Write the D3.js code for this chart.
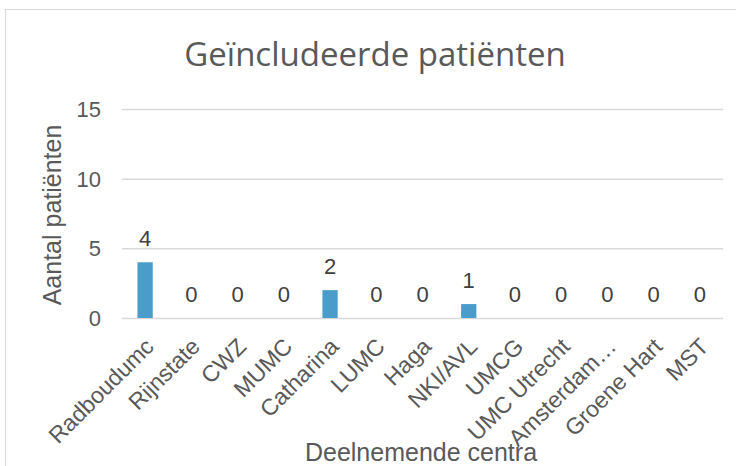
<!DOCTYPE html>
<html>
<head>
<meta charset="utf-8">
<script src="https://cdn.jsdelivr.net/npm/d3@7"></script>
<style>
  body { margin: 0; background: #fff; }
  svg text { font-family: "Liberation Sans", Arial, sans-serif; fill: #595959; }
</style>
</head>
<body>
<svg></svg>
<script>
var width = 736;
var height = 466;

var centra = ["Radboudumc", "Rijnstate", "CWZ", "MUMC", "Catharina", "LUMC", "Haga",
              "NKI/AVL", "UMCG", "UMC Utrecht", "Amsterdam…", "Groene Hart", "MST"];
var patienten = [4, 0, 0, 0, 2, 0, 0, 1, 0, 0, 0, 0, 0];
var y_ticks = [0, 5, 10, 15];

var plot = { left: 122, right: 723, top: 109, bottom: 318 };

var svg = d3.select("svg")
    .attr("width", width)
    .attr("height", height);

// chart frame (runs off the right and bottom edge)
svg.append("rect")
    .attr("x", 5.5).attr("y", 9.5)
    .attr("width", 740).attr("height", 470)
    .attr("fill", "none")
    .attr("stroke", "#d9d9d9");

var x = d3.scaleBand()
    .domain(centra)
    .range([plot.left, plot.right])
    .paddingInner(0.67)
    .paddingOuter(0.335);

var y = d3.scaleLinear()
    .domain([0, 15])
    .range([plot.bottom, plot.top]);

// gridlines
svg.append("g").selectAll("line")
    .data(y_ticks)
  .enter().append("line")
    .attr("x1", plot.left).attr("x2", plot.right)
    .attr("y1", function(d) { return y(d) + 0.5; })
    .attr("y2", function(d) { return y(d) + 0.5; })
    .attr("stroke", "#d9d9d9")
    .attr("stroke-width", 1.5);

// y tick labels
svg.append("g").selectAll("text")
    .data(y_ticks)
  .enter().append("text")
    .attr("x", 101)
    .attr("y", function(d) { return y(d); })
    .attr("dy", "0.36em")
    .attr("text-anchor", "end")
    .style("font-size", "22px")
    .text(function(d) { return d; });

// bars
svg.append("g").selectAll("rect")
    .data(patienten)
  .enter().append("rect")
    .attr("x", function(d, i) { return x(centra[i]); })
    .attr("y", function(d) { return y(d); })
    .attr("width", x.bandwidth())
    .attr("height", function(d) { return y(0) - y(d); })
    .attr("fill", "#4a9ccb");

// value labels
svg.append("g").selectAll("text")
    .data(patienten)
  .enter().append("text")
    .attr("x", function(d, i) { return x(centra[i]) + x.bandwidth() / 2; })
    .attr("y", function(d) { return y(d) - 16; })
    .attr("text-anchor", "middle")
    .style("font-size", "22px")
    .style("fill", "#404040")
    .text(function(d) { return d; });

// category labels, rotated
svg.append("g").selectAll("text")
    .data(centra)
  .enter().append("text")
    .attr("text-anchor", "end")
    .attr("transform", function(d) {
        var cx = x(d) + x.bandwidth() / 2 + 10;
        return "translate(" + cx + "," + (plot.bottom + 30) + ") rotate(-45)";
    })
    .style("font-size", "23px")
    .text(function(d) { return d; });

// title
svg.append("text")
    .attr("x", 375)
    .attr("y", 66)
    .attr("text-anchor", "middle")
    .style("font-size", "33px")
    .style("font-family", "'Open Sans', sans-serif")
    .text("Geïncludeerde patiënten");

// axis titles
svg.append("text")
    .attr("transform", "translate(61,215) rotate(-90)")
    .attr("text-anchor", "middle")
    .style("font-size", "25px")
    .text("Aantal patiënten");

svg.append("text")
    .attr("x", 421)
    .attr("y", 461)
    .attr("text-anchor", "middle")
    .style("font-size", "25px")
    .text("Deelnemende centra");
</script>
</body>
</html>
